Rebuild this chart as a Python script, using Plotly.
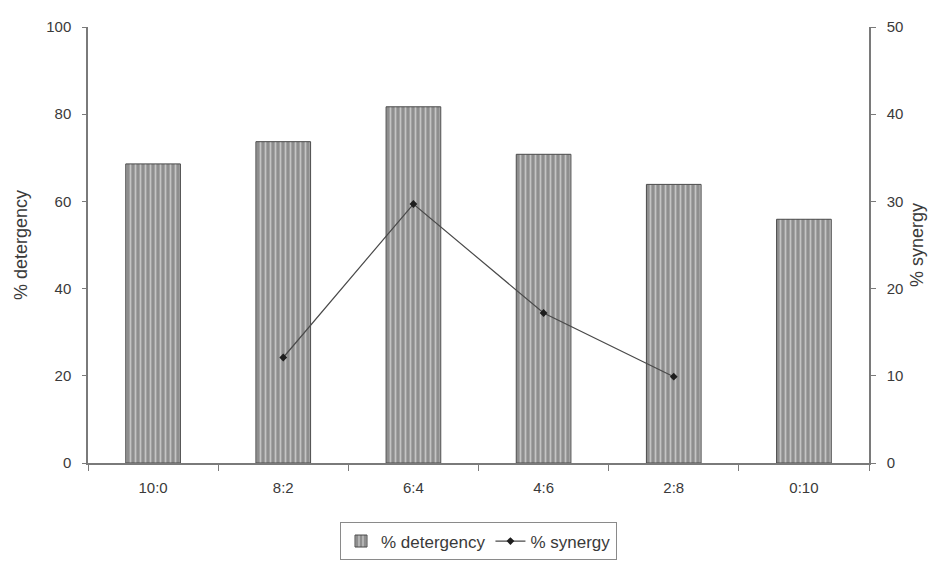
import plotly.graph_objects as go

# Mixing ratios of the two surfactants
ratios = ["10:0", "8:2", "6:4", "4:6", "2:8", "0:10"]

# Detergency (%) for each ratio, left axis
detergency = [68.6, 73.7, 81.7, 70.8, 63.9, 55.9]

# Synergy (%) for the mixed ratios only, right axis
synergy_ratios = ["8:2", "6:4", "4:6", "2:8"]
synergy = [12.1, 29.7, 17.2, 9.9]

text_color = "#3a3a3a"
axis_color = "#7a7a7a"
font_family = "Liberation Sans, Arial, sans-serif"

fig = go.Figure()

fig.add_trace(go.Bar(
    x=ratios,
    y=detergency,
    name="% detergency",
    width=0.42,
    marker=dict(
        color="#8e8e8e",
        line=dict(color="#4a4a4a", width=1),
        pattern=dict(shape="|", fgcolor="#fafafa", bgcolor="#8e8e8e",
                     size=5, solidity=0.35),
    ),
    yaxis="y",
))

fig.add_trace(go.Scatter(
    x=synergy_ratios,
    y=synergy,
    name="% synergy",
    mode="lines+markers",
    line=dict(color="#4a4a4a", width=1.2),
    marker=dict(symbol="diamond", size=6, color="#1e1e1e"),
    yaxis="y2",
))

fig.update_layout(
    width=936,
    height=573,
    margin=dict(l=88, r=65, t=27, b=110),
    paper_bgcolor="white",
    plot_bgcolor="white",
    font=dict(family=font_family, size=15, color=text_color),
    showlegend=True,
    legend=dict(
        orientation="h",
        x=0.5, xanchor="center",
        y=-0.18, yanchor="middle",
        bordercolor="#8a8a8a", borderwidth=1,
        font=dict(size=17, color=text_color),
        itemwidth=30,
    ),
    xaxis=dict(
        type="category",
        categoryorder="array",
        categoryarray=ratios,
        showline=True, linecolor=axis_color, linewidth=1.5,
        ticks="outside", tickson="boundaries", ticklen=6,
        tickcolor=axis_color,
        ticklabelstandoff=10,
        showgrid=False, zeroline=False,
        tickfont=dict(size=15, color=text_color),
    ),
    yaxis=dict(
        range=[0, 100],
        tickvals=[0, 20, 40, 60, 80, 100],
        showline=True, linecolor=axis_color, linewidth=1.5,
        ticks="outside", ticklen=4, tickcolor=axis_color,
        ticklabelstandoff=8,
        showgrid=False, zeroline=False,
        title=dict(text="% detergency", standoff=14,
                   font=dict(size=18, color=text_color)),
        tickfont=dict(size=15, color=text_color),
    ),
    yaxis2=dict(
        range=[0, 50],
        tickvals=[0, 10, 20, 30, 40, 50],
        overlaying="y",
        side="right",
        showline=True, linecolor=axis_color, linewidth=1.5,
        ticks="outside", ticklen=5, tickcolor=axis_color,
        ticklabelstandoff=8,
        showgrid=False, zeroline=False,
        title=dict(text="% synergy", standoff=8,
                   font=dict(size=18, color=text_color)),
        tickfont=dict(size=15, color=text_color),
    ),
)

fig.write_html("out.html")
